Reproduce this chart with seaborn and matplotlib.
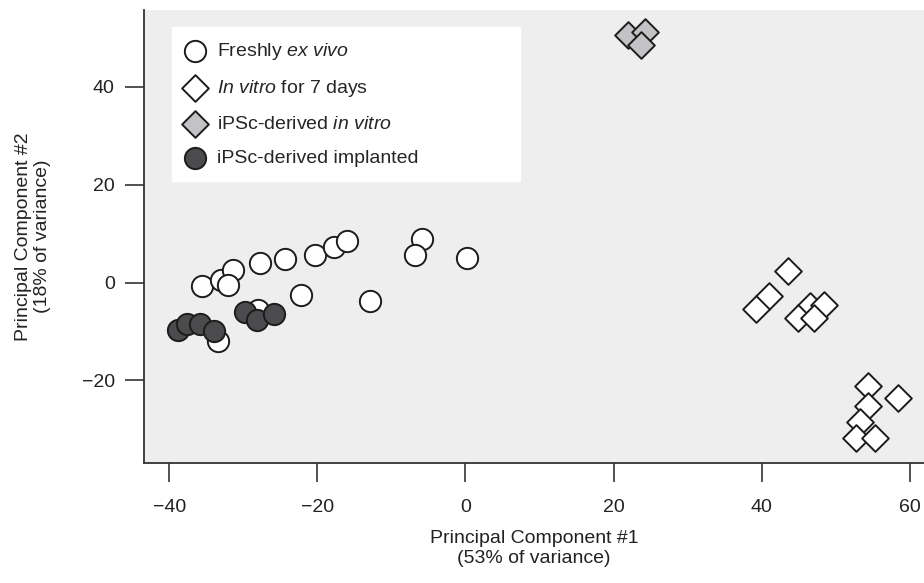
import numpy as np
import pandas as pd
import matplotlib.pyplot as plt
import seaborn as sns

# values
fresh_x = [-35.5, -33.0, -31.4, -32.0, -27.7, -24.4, -20.3, -17.8, -16.0, -22.2, -28.0, -33.4, -5.8, -6.8, 0.2, -12.9]
fresh_y = [-0.8, 0.5, 2.5, -0.5, 4.0, 4.9, 5.7, 7.2, 8.4, -2.5, -5.6, -12.0, 8.9, 5.6, 5.0, -3.7]

vitro_x = [43.6, 41.0, 39.2, 46.5, 48.4, 44.9, 47.1, 54.4, 58.4, 54.3, 53.2, 52.7, 55.3]
vitro_y = [2.3, -2.8, -5.5, -4.8, -4.6, -7.2, -7.2, -21.2, -23.7, -25.2, -28.5, -31.7, -31.7]

ipsc_vitro_x = [22.0, 24.3, 23.7]
ipsc_vitro_y = [50.6, 51.3, 48.6]

ipsc_impl_x = [-38.8, -37.6, -35.8, -34.0, -29.8, -28.2, -25.9]
ipsc_impl_y = [-9.7, -8.4, -8.4, -10.0, -6.1, -7.7, -6.5]

labels = [r"Freshly $\mathit{ex\ vivo}$",
          r"$\mathit{In\ vitro}$ for 7 days",
          r"iPSc-derived $\mathit{in\ vitro}$",
          "iPSc-derived implanted"]

sns.set_theme(style="ticks")
plt.rcParams['font.family'] = ['Liberation Sans', 'DejaVu Sans']
plt.rcParams['mathtext.fontset'] = 'custom'
plt.rcParams['mathtext.rm'] = 'Liberation Sans'
plt.rcParams['mathtext.it'] = 'Liberation Sans:italic'

fig = plt.figure(figsize=(9.24, 5.83), dpi=100)
ax = fig.add_axes([0.1558, 0.2058, 0.8442, 0.777])
ax.set_facecolor('#eeeeee')

edge = '#1c1c1c'
groups = [
    (fresh_x, fresh_y, 'o', 'white', 235, labels[0]),
    (vitro_x, vitro_y, 'D', 'white', 185, labels[1]),
    (ipsc_vitro_x, ipsc_vitro_y, 'D', '#c3c3c6', 185, labels[2]),
    (ipsc_impl_x, ipsc_impl_y, 'o', '#4b4b4d', 235, labels[3]),
]
for gx, gy, mk, fc, sz, lab in groups:
    df = pd.DataFrame({"pc1": gx, "pc2": gy})
    sns.scatterplot(data=df, x="pc1", y="pc2", marker=mk, color=fc, s=sz,
                    edgecolor=edge, linewidth=1.4, label=lab, ax=ax, zorder=3)

ax.set_xlim(-43.4, 61.9)
ax.set_ylim(-36.9, 55.7)
ax.set_xticks([-40, -20, 0, 20, 40, 60])
ax.set_yticks([-20, 0, 20, 40])

for s in ['top', 'right']:
    ax.spines[s].set_visible(False)
for s in ['left', 'bottom']:
    ax.spines[s].set_color('#333333')
    ax.spines[s].set_linewidth(1.3)
ax.tick_params(axis='both', direction='out', length=14, width=1.2,
               color='#333333', labelsize=14, labelcolor='#222222')
ax.tick_params(axis='x', pad=12)
ax.tick_params(axis='y', pad=7)

ax.set_xlabel("Principal Component #1\n(53% of variance)", fontsize=14,
              color='#222222', labelpad=10)
ax.set_ylabel("Principal Component #2\n(18% of variance)", fontsize=14,
              color='#222222', labelpad=22)

leg = ax.legend(loc='upper left', bbox_to_anchor=(0.036, 0.5, 0.446, 0.4625),
                mode='expand', borderaxespad=0, fontsize=14, frameon=True,
                fancybox=False, borderpad=0.7, labelspacing=0.85,
                handlelength=1.0, handletextpad=0.6)
leg.get_frame().set_facecolor('white')
leg.get_frame().set_edgecolor('white')
leg.get_frame().set_alpha(1)

fig.savefig("out.png", dpi=100)
